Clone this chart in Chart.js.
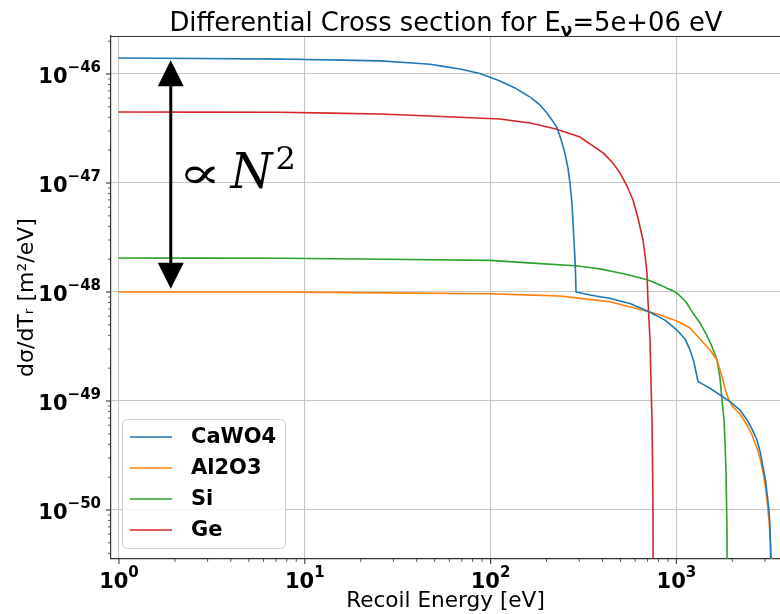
<!DOCTYPE html>
<html>
<head>
<meta charset="utf-8">
<script src="https://cdn.jsdelivr.net/npm/chart.js@4.4.1/dist/chart.umd.min.js"></script>
<style>
html,body{margin:0;padding:0;background:#fff;}
#wrap{position:relative;width:780px;height:614px;overflow:hidden;}
#c{position:absolute;left:0;top:0;}
#title{position:absolute;left:111px;width:670px;top:10px;text-align:center;font:25.8px "DejaVu Sans",sans-serif;line-height:25px;color:#000;white-space:nowrap;}
#title sub{font-size:17px;font-weight:bold;vertical-align:-5px;line-height:0;}
</style>
</head>
<body>
<div id="wrap">
<canvas id="c" width="780" height="614"></canvas>
<div id="title">Differential Cross section for E<sub>ν</sub>=5e+06 eV</div>
</div>
<script>
// ---- data ----
const seriesNames = ['CaWO4', 'Al2O3', 'Si', 'Ge'];
const seriesColors = ['#1f77b4', '#ff7f0e', '#2ca02c', '#d62728'];

const cawo4Energy = [1, 7.36, 10.0, 25.4, 47.2, 68.4, 87.7, 112.3, 135.3, 163, 184.5, 201, 214, 228, 239, 251, 261, 267.5, 274, 277.7, 282.8, 284.7, 286.8, 288.2, 343, 439, 563, 712, 868, 1007, 1112, 1184, 1243, 1307, 1516, 1943, 2199, 2399, 2553, 2716, 2836, 2925, 3017, 3073, 3151, 3190, 3217, 3225];
const cawo4Sigma  = [1.40e-46, 1.37e-46, 1.36e-46, 1.32e-46, 1.23e-46, 1.11e-46, 1.01e-46, 8.63e-47, 7.44e-47, 6.15e-47, 5.20e-47, 4.38e-47, 3.79e-47, 3.20e-47, 2.53e-47, 1.89e-47, 1.37e-47, 1.0e-47, 6.56e-48, 4.30e-48, 2.43e-48, 1.97e-48, 1.40e-48, 1.0e-48, 9.38e-49, 8.75e-49, 7.84e-49, 6.59e-49, 5.53e-49, 4.48e-49, 3.71e-49, 2.94e-49, 2.28e-49, 1.51e-49, 1.31e-49, 9.86e-50, 8.26e-50, 6.70e-50, 5.53e-50, 4.39e-50, 3.33e-50, 2.48e-50, 1.88e-50, 1.43e-50, 1.0e-50, 6.98e-51, 3.55e-51, 1e-52];

const al2o3Energy = [1, 7.36, 99.3, 236, 439, 712, 816, 1007, 1184, 1340, 1516, 1654, 1781, 1849, 1919, 2017, 2199, 2399, 2553, 2716, 2836, 2925, 3017, 3073, 3151, 3190, 3250, 3265];
const al2o3Sigma  = [1.0e-48, 1.0e-48, 9.65e-49, 9.19e-49, 8.15e-49, 6.59e-49, 6.15e-49, 5.42e-49, 4.68e-49, 3.71e-49, 2.94e-49, 2.38e-49, 1.56e-49, 1.21e-49, 1.02e-49, 8.81e-50, 7.60e-50, 6.03e-50, 4.88e-50, 3.71e-50, 2.88e-50, 2.23e-50, 1.63e-50, 1.24e-50, 8.09e-51, 5.90e-51, 3.55e-51, 1e-52];

const siEnergy = [1, 7.36, 99.3, 284.7, 388, 529, 703, 847, 1007, 1126, 1228, 1340, 1443, 1536, 1654, 1717, 1760, 1804, 1827, 1849, 1872, 1884];
const siSigma  = [2.05e-48, 2.04e-48, 1.95e-48, 1.74e-48, 1.63e-48, 1.46e-48, 1.29e-48, 1.13e-48, 9.80e-49, 8.10e-49, 6.41e-49, 5.20e-49, 4.12e-49, 3.33e-49, 2.38e-49, 1.63e-49, 1.02e-49, 6.70e-50, 4.12e-50, 2.33e-50, 6.56e-51, 1e-52];

const geEnergy = [1, 7.36, 25.4, 47.2, 112.3, 163, 225, 303, 343, 403, 450, 497, 542, 584, 621, 661, 678, 695, 703, 721, 739, 748, 753];
const geSigma  = [4.48e-47, 4.45e-47, 4.30e-47, 4.12e-47, 3.87e-47, 3.55e-47, 3.13e-47, 2.64e-47, 2.28e-47, 1.89e-47, 1.56e-47, 1.24e-47, 9.38e-48, 6.98e-48, 4.78e-48, 3.00e-48, 2.18e-48, 1.49e-48, 8.45e-49, 3.63e-49, 6.70e-50, 1.24e-50, 1e-52];

const xTickExponents = [0, 1, 2, 3];
const yTickExponents = [-50, -49, -48, -47, -46];
const xRange = [0.906, 3611];
const yRange = [3.553e-51, 2.231e-46];

// annotation (data coordinates)
const arrowX = 1.9;
const arrowTop = 1.34e-46;
const arrowBottom = 1.07e-48;
const annotX = 2.2;
const annotY = 9.0e-48;
const annotText = ['∝', 'N', '2'];

// ---- build ----
const energies = [cawo4Energy, al2o3Energy, siEnergy, geEnergy];
const sigmas = [cawo4Sigma, al2o3Sigma, siSigma, geSigma];

const datasets = seriesNames.map((name, i) => ({
  label: name,
  data: energies[i].map((e, j) => ({x: e, y: sigmas[i][j]})),
  showLine: true,
  borderColor: seriesColors[i],
  backgroundColor: seriesColors[i],
  borderWidth: 1.6,
  borderJoinStyle: 'round',
  borderCapStyle: 'round',
  pointRadius: 0,
  fill: false,
  tension: 0.000001
}));

function isMajor(v) {
  const l = Math.log10(v);
  return Math.abs(l - Math.round(l)) < 1e-6;
}
function logTicks(min, max) {
  const out = [];
  const lo = Math.floor(Math.log10(min)), hi = Math.ceil(Math.log10(max));
  for (let n = lo; n <= hi; n++) {
    for (let m = 1; m <= 9; m++) {
      const v = m * Math.pow(10, n);
      if (v >= min * 0.9999 && v <= max * 1.0001) out.push({value: v, major: m === 1});
    }
  }
  return out;
}
const SPINE = '#333333';
const gridColor = (ctx) => (ctx.tick && isMajor(ctx.tick.value)) ? '#c6c6c6' : 'rgba(0,0,0,0)';

function supText(exp) {
  return (exp < 0 ? '\u2212' : '') + String(Math.abs(exp));
}

const overlay = {
  id: 'overlay',
  afterDraw(chart) {
    const {ctx, chartArea: ca, scales: {x, y}} = chart;
    ctx.save();
    // top spine
    ctx.strokeStyle = SPINE;
    ctx.lineWidth = 1.2;
    ctx.beginPath();
    ctx.moveTo(ca.left, ca.top + 0.5);
    ctx.lineTo(ca.right, ca.top + 0.5);
    ctx.stroke();
    // tick marks
    x.ticks.forEach(t => {
      const px = x.getPixelForValue(t.value);
      const mj = isMajor(t.value);
      ctx.lineWidth = mj ? 1.1 : 0.8;
      ctx.beginPath();
      ctx.moveTo(px, ca.bottom);
      ctx.lineTo(px, ca.bottom + (mj ? 5 : 3));
      ctx.stroke();
    });
    y.ticks.forEach(t => {
      const py = y.getPixelForValue(t.value);
      const mj = isMajor(t.value);
      ctx.lineWidth = mj ? 1.1 : 0.8;
      ctx.beginPath();
      ctx.moveTo(ca.left, py);
      ctx.lineTo(ca.left - (mj ? 5 : 3), py);
      ctx.stroke();
    });
    // tick labels 10^n
    const baseFont = 'bold 21px "DejaVu Sans"';
    const expFont = 'bold 15px "DejaVu Sans"';
    ctx.fillStyle = '#000';
    ctx.textBaseline = 'alphabetic';
    ctx.textAlign = 'left';
    xTickExponents.forEach(n => {
      const px = x.getPixelForValue(Math.pow(10, n));
      ctx.font = baseFont; const w1 = ctx.measureText('10').width;
      ctx.font = expFont; const s = supText(n); const w2 = ctx.measureText(s).width;
      const x0 = px - (w1 + w2) / 2;
      ctx.font = baseFont; ctx.fillText('10', x0, ca.bottom + 29);
      ctx.font = expFont; ctx.fillText(s, x0 + w1, ca.bottom + 18);
    });
    yTickExponents.forEach(n => {
      const py = y.getPixelForValue(Math.pow(10, n));
      ctx.font = baseFont; const w1 = ctx.measureText('10').width;
      ctx.font = expFont; const s = supText(n); const w2 = ctx.measureText(s).width;
      const x0 = ca.left - 10 - (w1 + w2);
      ctx.font = baseFont; ctx.fillText('10', x0, py + 9);
      ctx.font = expFont; ctx.fillText(s, x0 + w1, py - 2);
    });

    // arrow
    const ax = x.getPixelForValue(arrowX);
    const ay1 = y.getPixelForValue(arrowTop);
    const ay2 = y.getPixelForValue(arrowBottom);
    const hw = 13, hl = 26;
    ctx.strokeStyle = '#000';
    ctx.fillStyle = '#000';
    ctx.lineWidth = 3;
    ctx.beginPath();
    ctx.moveTo(ax, ay1 + hl - 2);
    ctx.lineTo(ax, ay2 - hl + 2);
    ctx.stroke();
    ctx.beginPath();
    ctx.moveTo(ax, ay1); ctx.lineTo(ax - hw, ay1 + hl); ctx.lineTo(ax + hw, ay1 + hl); ctx.closePath(); ctx.fill();
    ctx.beginPath();
    ctx.moveTo(ax, ay2); ctx.lineTo(ax - hw, ay2 - hl); ctx.lineTo(ax + hw, ay2 - hl); ctx.closePath(); ctx.fill();

    // annotation text  ∝ N^2
    const tx = x.getPixelForValue(annotX);
    const ty = y.getPixelForValue(annotY);
    ctx.save();
    ctx.translate(tx, ty);
    ctx.scale(1.45, 1);
    ctx.font = '44px "DejaVu Serif"';
    ctx.fillText(annotText[0], -3, 0);
    ctx.restore();
    ctx.font = 'italic 48px "DejaVu Serif"';
    const nx = tx + 48;
    ctx.fillText(annotText[1], nx, ty);
    const wN = ctx.measureText(annotText[1]).width;
    ctx.font = '32px "DejaVu Serif"';
    ctx.fillText(annotText[2], nx + wN + 3, ty - 19);

    // legend
    const lx = 122, ly = 419, lw = 163, lh = 129;
    ctx.beginPath();
    ctx.roundRect(lx + 0.5, ly + 0.5, lw, lh, 5);
    ctx.fillStyle = 'rgba(255,255,255,0.8)';
    ctx.fill();
    ctx.strokeStyle = '#cccccc';
    ctx.lineWidth = 1;
    ctx.stroke();
    ctx.font = 'bold 21px "DejaVu Sans"';
    ctx.textBaseline = 'middle';
    chart.data.datasets.forEach((ds, i) => {
      const ry = ly + 18 + i * 31;
      ctx.strokeStyle = ds.borderColor;
      ctx.lineWidth = 1.6;
      ctx.beginPath();
      ctx.moveTo(lx + 8, ry);
      ctx.lineTo(lx + 50, ry);
      ctx.stroke();
      ctx.fillStyle = '#000';
      ctx.fillText(ds.label, lx + 69, ry + 1);
    });
    ctx.restore();
  }
};

new Chart(document.getElementById('c'), {
  type: 'scatter',
  data: {datasets},
  options: {
    responsive: false,
    animation: false,
    devicePixelRatio: 1,
    layout: {padding: {left: 0, top: 36, right: 0, bottom: 0}},
    plugins: {legend: {display: false}, title: {display: false}, tooltip: {enabled: false}},
    scales: {
      x: {
        type: 'logarithmic',
        min: xRange[0], max: xRange[1],
        afterBuildTicks: (s) => { s.ticks = logTicks(s.min, s.max); },
        afterFit: (s) => { s.height = 55; },
        ticks: {display: false},
        grid: {color: gridColor, lineWidth: 1.1, drawTicks: false},
        border: {display: true, color: SPINE, width: 1.2},
        title: {display: true, text: 'Recoil Energy [eV]', font: {family: 'DejaVu Sans', size: 21.6}, color: '#000', padding: {top: 0, bottom: 0}}
      },
      y: {
        type: 'logarithmic',
        min: yRange[0], max: yRange[1],
        afterBuildTicks: (s) => { s.ticks = logTicks(s.min, s.max); },
        afterFit: (s) => { s.width = 111; },
        ticks: {display: false},
        grid: {color: gridColor, lineWidth: 1.1, drawTicks: false},
        border: {display: true, color: SPINE, width: 1.2},
        title: {display: true, text: 'dσ/dTᵣ [m²/eV]', font: {family: 'DejaVu Sans', size: 22}, color: '#000', padding: {top: 14, bottom: 0}}
      }
    }
  },
  plugins: [overlay]
});
</script>
</body>
</html>
